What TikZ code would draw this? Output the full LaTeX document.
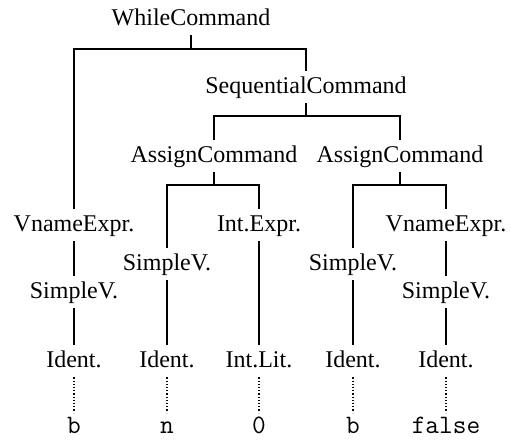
\documentclass[tikz,border=0pt]{standalone}
\usepackage{fontspec}
\setmainfont{Liberation Serif}
\usepackage{tikz}
\usetikzlibrary{calc,positioning}
\tikzset{
  lbl/.style={anchor=base, inner sep=2pt, text height=8.7pt, text depth=3pt, font=\fontsize{12pt}{14pt}\selectfont},
  leaf/.style={anchor=base, inner sep=2pt, text height=8pt, text depth=3pt, font=\fontsize{13.3pt}{15pt}\selectfont\ttfamily},
  branch/.style={line width=1pt},
  token/.style={densely dotted, line width=0.6pt}
}

\begin{document}
\begin{tikzpicture}[x=0.5pt, y=-0.5pt]
\useasboundingbox (0,0) rectangle (511,440);
\node[lbl] (wc) at (191,25) {WhileCommand}; \node[lbl] (sc) at (306,93) {SequentialCommand};
\node[lbl] (ac1) at (214,162) {AssignCommand}; \node[lbl] (ac2) at (400,162) {AssignCommand};
\node[lbl] (vn1) at (74,231) {VnameExpr.}; \node[lbl] (ie) at (259,231) {Int.Expr.}; \node[lbl] (vn2) at (446,231) {VnameExpr.};
\node[lbl] (sv2) at (167,270) {SimpleV.}; \node[lbl] (sv3) at (353,270) {SimpleV.};
\node[lbl] (sv1) at (74,298) {SimpleV.}; \node[lbl] (sv4) at (446,298) {SimpleV.};
\node[lbl] (id1) at (74,367) {Ident.}; \node[lbl] (id2) at (167,367) {Ident.}; \node[lbl] (il) at (259,367) {Int.Lit.};
\node[lbl] (id3) at (353,367) {Ident.}; \node[lbl] (id4) at (446,367) {Ident.};
\node[leaf] (b1) at (74,433) {b}; \node[leaf] (n) at (167,433) {n}; \node[leaf] (zero) at (259,433) {0};
\node[leaf] (b2) at (353,433) {b}; \node[leaf] (false) at (446,433) {false};

\coordinate (j1) at (191,49); \coordinate (j2) at (306,116); \coordinate (j3) at (214,185); \coordinate (j4) at (400,185);
\draw[branch] (wc.south) -- (j1); \draw[branch] (vn1.north) |- (j1) -| (sc.north);
\draw[branch] (sc.south) -- (j2); \draw[branch] (ac1.north) |- (j2) -| (ac2.north);
\draw[branch] (ac1.south) -- (j3); \draw[branch] (sv2.north) |- (j3) -| (ie.north);
\draw[branch] (ac2.south) -- (j4); \draw[branch] (sv3.north) |- (j4) -| (vn2.north);
\draw[branch] (vn1) -- (sv1); \draw[branch] (vn2) -- (sv4);
\draw[branch] (sv1) -- (id1); \draw[branch] (sv2) -- (id2); \draw[branch] (ie) -- (il);
\draw[branch] (sv3) -- (id3); \draw[branch] (sv4) -- (id4);
\draw[token] (id1) -- (b1); \draw[token] (id2) -- (n); \draw[token] (il) -- (zero);
\draw[token] (id3) -- (b2); \draw[token] (id4) -- (false);
\end{tikzpicture}
\end{document}
